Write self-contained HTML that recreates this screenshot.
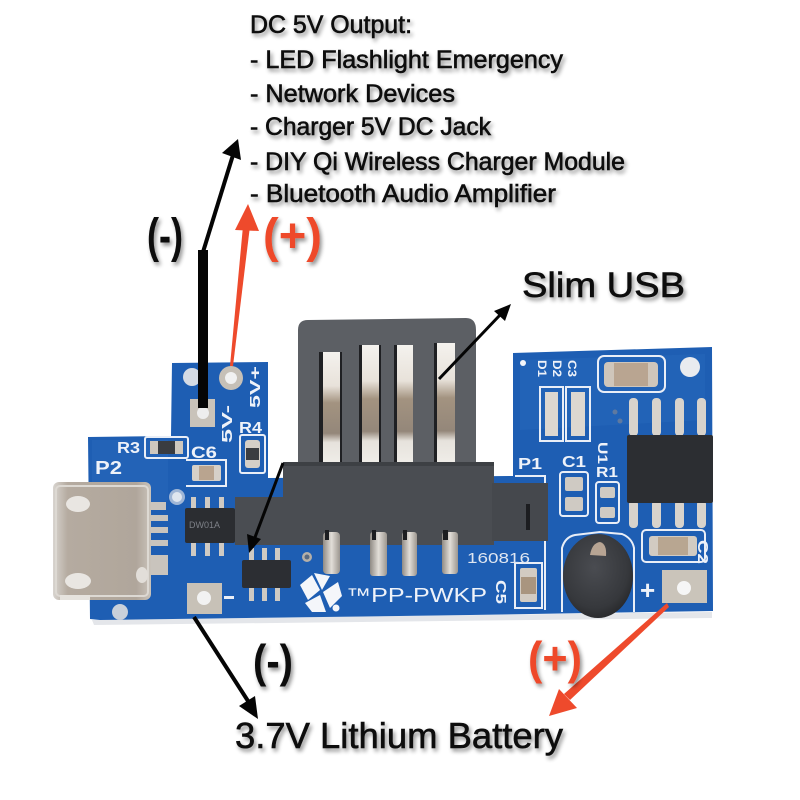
<!DOCTYPE html>
<html><head><meta charset="utf-8">
<style>
html,body{margin:0;padding:0;background:#fff;}
svg{display:block;}
text{font-family:"Liberation Sans",sans-serif;}
</style></head>
<body>
<svg width="800" height="800" viewBox="0 0 800 800" xmlns="http://www.w3.org/2000/svg">
<defs>
<filter id="sh" x="-10%" y="-40%" width="130%" height="200%">
<feGaussianBlur in="SourceAlpha" stdDeviation="2.2"/>
<feOffset dx="2" dy="3"/>
<feComponentTransfer><feFuncA type="linear" slope="0.45"/></feComponentTransfer>
<feMerge><feMergeNode/><feMergeNode in="SourceGraphic"/></feMerge>
</filter>
<linearGradient id="slot" x1="0" y1="0" x2="0" y2="1">
<stop offset="0" stop-color="#f4f2ee"/>
<stop offset="0.3" stop-color="#e8e2da"/>
<stop offset="0.45" stop-color="#a39380"/>
<stop offset="0.72" stop-color="#94877a"/>
<stop offset="0.8" stop-color="#e6e2dc"/>
<stop offset="1" stop-color="#f0eee9"/>
</linearGradient>
<linearGradient id="pin" x1="0" y1="0" x2="1" y2="0">
<stop offset="0" stop-color="#8f8a84"/>
<stop offset="0.5" stop-color="#e2ded8"/>
<stop offset="1" stop-color="#9c968f"/>
</linearGradient>
<radialGradient id="ind" cx="0.45" cy="0.4" r="0.6">
<stop offset="0" stop-color="#4a4c51"/>
<stop offset="0.8" stop-color="#36383c"/>
<stop offset="1" stop-color="#2a2b2e"/>
</radialGradient>
<linearGradient id="usb" x1="0" y1="0" x2="1" y2="0">
<stop offset="0" stop-color="#d8d4cf"/>
<stop offset="0.15" stop-color="#b5aba0"/>
<stop offset="0.85" stop-color="#b0a69b"/>
<stop offset="1" stop-color="#c9c3bb"/>
</linearGradient>
</defs>

<rect width="800" height="800" fill="#fff"/>

<!-- board shadow -->
<path d="M92 620 L712 612 L712 618 L94 625 Z" fill="#e4e6ea"/>

<!-- PCB board -->
<path d="M88 437 L171 436 L172 363 L268 362 L268 478 L513 476 L513 353 L712 347 L713 611 L470 615 L100 620 L90 619 Z" fill="#1e5eb3"/>
<path d="M92 440 L168 440 L168 500 L92 520 Z" fill="#2768bb" opacity="0.5"/>
<path d="M520 360 L705 354 L705 420 L520 430 Z" fill="#286abd" opacity="0.45"/>

<!-- silkscreen outlines -->
<g fill="none" stroke="#e9eef7" stroke-width="2">
<rect x="145" y="437" width="43" height="21" rx="2"/>
<path d="M186 460 L226 460 L226 486 L186 486"/>
<rect x="240" y="435" width="25" height="38" rx="2"/>
<path d="M515 608 L515 563 L542 563 L542 608 Z"/>
<rect x="560" y="472" width="28" height="44" rx="3"/>
<rect x="596" y="482" width="23" height="41" rx="3"/>
<rect x="642" y="530" width="63" height="32" rx="4"/>
<rect x="598" y="356" width="67" height="36" rx="6"/>
<path d="M540 387 L563 387 L563 441 L540 441 Z"/>
<path d="M566 387 L590 387 L590 441 L566 441 Z"/>
<path d="M562 612 L562 548 Q565 537 575 535 L600 532 L622 534 Q632 538 634 548 L634 612"/>
<path d="M515 476 L545 476 L545 610"/>
</g>

<!-- left section components -->
<rect x="150" y="441" width="33" height="13" fill="#cfc8be"/>
<rect x="158" y="441" width="17" height="13" fill="#3a3c40"/>
<rect x="192" y="465" width="29" height="16" rx="2" fill="#d6d0c8"/>
<rect x="199" y="466" width="15" height="14" fill="#b9a48f"/>
<!-- DW01A -->
<g fill="#cfcac3">
<rect x="191" y="497" width="5" height="14"/><rect x="205" y="497" width="5" height="14"/><rect x="219" y="497" width="5" height="14"/>
<rect x="191" y="541" width="5" height="15"/><rect x="205" y="541" width="5" height="15"/><rect x="219" y="541" width="5" height="15"/>
</g>
<rect x="185" y="508" width="50" height="35" rx="2" fill="#2b2d31"/>
<text x="189" y="528" font-size="9" fill="#7d8087">DW01A</text>
<!-- micro usb side pins -->
<g fill="#c9c4bd">
<rect x="146" y="502" width="20" height="8"/>
<rect x="150" y="515" width="18" height="6"/>
<rect x="150" y="527" width="18" height="6"/>
<rect x="150" y="540" width="18" height="6"/>
<rect x="146" y="555" width="22" height="20"/>
</g>
<!-- micro USB -->
<rect x="53" y="482" width="98" height="118" rx="6" fill="url(#usb)"/>
<rect x="56" y="486" width="92" height="110" rx="4" fill="none" stroke="#ddd9d3" stroke-width="2"/>
<ellipse cx="78" cy="504" rx="12" ry="8" fill="#e9e6e2"/>
<ellipse cx="78" cy="581" rx="13" ry="8" fill="#e9e6e2"/>
<ellipse cx="142" cy="575" rx="6" ry="8" fill="#e2ded9"/>
<rect x="60" y="595" width="30" height="5" fill="#e6e3de"/>
<!-- holes -->
<circle cx="177" cy="497" r="8" fill="#9fb6d6"/><circle cx="177" cy="497" r="5" fill="#dfe6ef"/>
<circle cx="120" cy="612" r="8" fill="#c9d0da"/>
<circle cx="192" cy="377" r="9" fill="#d5dbe4"/>
<circle cx="231" cy="378" r="12" fill="#c6c0b7"/><circle cx="231" cy="378" r="6" fill="#f1f1f1"/>
<rect x="190" y="399" width="25" height="28" fill="#c9c3ba"/><circle cx="203" cy="413" r="6" fill="#eeeeee"/>
<!-- R4 -->
<rect x="245" y="440" width="15" height="28" rx="3" fill="#d5cfc7"/><rect x="246" y="448" width="13" height="12" fill="#3b3d41"/>
<!-- bottom minus pad -->
<rect x="187" y="583" width="35" height="31" fill="#c7c1b7"/><circle cx="204" cy="598" r="7" fill="#f2f2f2"/>
<rect x="224" y="596" width="10" height="3" fill="#e9eef7"/>
<!-- SOT chip -->
<g fill="#cfcac3">
<rect x="249" y="548" width="5" height="13"/><rect x="262" y="548" width="5" height="13"/><rect x="275" y="548" width="5" height="13"/>
<rect x="249" y="586" width="5" height="15"/><rect x="262" y="586" width="5" height="15"/><rect x="275" y="586" width="5" height="15"/>
</g>
<rect x="242" y="560" width="49" height="28" rx="2" fill="#2c2e33"/>
<!-- logo -->
<g fill="#f4f6fa">
<path d="M300 585 L312 575 L320 590 L308 600 Z"/>
<path d="M314 573 L330 576 L322 590 Z"/>
<path d="M323 592 L338 582 L342 596 L330 608 Z"/>
<path d="M305 603 L320 595 L326 612 L312 612 Z"/>
<circle cx="336" cy="608" r="3.5"/>
</g>
<circle cx="307" cy="557" r="5" fill="#b6b0a8"/><circle cx="307" cy="557" r="2.5" fill="#5a6a80"/>

<!-- connector -->
<rect x="235" y="497" width="60" height="48" fill="#4a4d52"/>
<rect x="283" y="462" width="211" height="83" fill="#4a4d52"/>
<rect x="492" y="483" width="56" height="58" fill="#45484d"/>
<rect x="526" y="504" width="4" height="26" fill="#1c1d20"/>
<path d="M298 330 Q298 320 308 320 L466 318 Q476 318 476 330 L476 465 L298 465 Z" fill="#5c5f64"/>
<g>
<rect x="320" y="352" width="22" height="113" fill="url(#slot)"/>
<rect x="360" y="345" width="20" height="120" fill="url(#slot)"/>
<rect x="395" y="345" width="18" height="120" fill="url(#slot)"/>
<rect x="435" y="343" width="20" height="122" fill="url(#slot)"/>
</g>
<g fill="#1f2023">
<rect x="319" y="352" width="4" height="113"/><rect x="340" y="352" width="2" height="113"/>
<rect x="359" y="345" width="3" height="120"/><rect x="379" y="345" width="2" height="120"/>
<rect x="394" y="345" width="3" height="120"/>
<rect x="434" y="343" width="3" height="122"/>
</g>
<rect x="283" y="462" width="211" height="4" fill="#3d4044"/>
<!-- connector pins -->
<rect x="323" y="532" width="17" height="42" rx="4" fill="url(#pin)"/>
<rect x="370" y="532" width="17" height="44" rx="3" fill="url(#pin)"/>
<rect x="402" y="532" width="15" height="44" rx="3" fill="url(#pin)"/>
<rect x="442" y="532" width="16" height="42" rx="3" fill="url(#pin)"/>
<g fill="#1c1d20"><rect x="325" y="530" width="4" height="10"/><rect x="372" y="530" width="4" height="10"/><rect x="403" y="530" width="4" height="10"/><rect x="443" y="530" width="5" height="10"/></g>

<!-- right section components -->
<circle cx="523" cy="363" r="3" fill="#f4f6fa"/>
<circle cx="690" cy="367" r="10" fill="#e9ebef"/>
<rect x="545" y="392" width="13" height="44" fill="#dcd7d0"/>
<rect x="571" y="392" width="14" height="44" fill="#dcd7d0"/>
<rect x="604" y="362" width="54" height="25" rx="4" fill="#cfc6bb"/>
<rect x="614" y="363" width="34" height="23" fill="#b9a591"/>
<circle cx="615" cy="412" r="2.5" fill="#5e79a0"/><circle cx="620" cy="421" r="2.5" fill="#5e79a0"/>
<!-- IC -->
<g fill="#d8d3cc">
<rect x="629" y="398" width="9" height="38" rx="4"/><rect x="652" y="398" width="9" height="38" rx="4"/><rect x="675" y="398" width="9" height="38" rx="4"/><rect x="697" y="398" width="9" height="38" rx="4"/>
<rect x="629" y="500" width="9" height="28" rx="4"/><rect x="652" y="500" width="9" height="28" rx="4"/><rect x="675" y="500" width="9" height="28" rx="4"/><rect x="697" y="500" width="9" height="28" rx="4"/>
</g>
<rect x="627" y="435" width="86" height="68" rx="2" fill="#2c2e32"/>
<rect x="565" y="477" width="18" height="14" rx="2" fill="#cfcac3"/><rect x="565" y="497" width="18" height="14" rx="2" fill="#cfcac3"/>
<rect x="600" y="487" width="15" height="11" rx="2" fill="#cfcac3"/><rect x="600" y="507" width="15" height="11" rx="2" fill="#cfcac3"/>
<rect x="649" y="536" width="48" height="20" rx="3" fill="#d2cbc2"/><rect x="658" y="537" width="30" height="18" fill="#b8a691"/>
<rect x="520" y="568" width="17" height="34" rx="2" fill="#d2cbc2"/><rect x="521" y="577" width="15" height="17" fill="#a9957f"/>
<!-- inductor -->
<ellipse cx="598" cy="576" rx="35" ry="42" fill="url(#ind)"/>
<path d="M590 555 Q592 543 600 542 Q607 544 606 556 Z" fill="#b7a493"/>
<!-- + pad -->
<rect x="662" y="570" width="45" height="33" fill="#cac4ba"/><circle cx="684" cy="588" r="7" fill="#f6f6f6"/>

<!-- board silkscreen text -->
<g fill="#eef2f9" font-weight="bold">
<text x="117" y="453" font-size="16" textLength="23" lengthAdjust="spacingAndGlyphs">R3</text>
<text x="95" y="474" font-size="18" textLength="27" lengthAdjust="spacingAndGlyphs">P2</text>
<text x="191" y="458" font-size="17" textLength="26" lengthAdjust="spacingAndGlyphs">C6</text>
<text x="239" y="433" font-size="16" textLength="23" lengthAdjust="spacingAndGlyphs">R4</text>
<text transform="translate(260,408) rotate(-90)" font-size="15" textLength="42" lengthAdjust="spacingAndGlyphs">5V+</text>
<text transform="translate(232,443) rotate(-90)" font-size="15" textLength="38" lengthAdjust="spacingAndGlyphs">5V-</text>
<text x="518" y="469" font-size="16" textLength="24" lengthAdjust="spacingAndGlyphs">P1</text>
<text x="562" y="467" font-size="16" textLength="24" lengthAdjust="spacingAndGlyphs">C1</text>
<text x="596" y="477" font-size="15" textLength="22" lengthAdjust="spacingAndGlyphs">R1</text>
<text transform="translate(598,442) rotate(90)" font-size="14" textLength="22" lengthAdjust="spacingAndGlyphs">U1</text>
<text transform="translate(538,360) rotate(90)" font-size="12" textLength="17" lengthAdjust="spacingAndGlyphs">D1</text>
<text transform="translate(553,360) rotate(90)" font-size="12" textLength="17" lengthAdjust="spacingAndGlyphs">D2</text>
<text transform="translate(568,360) rotate(90)" font-size="12" textLength="17" lengthAdjust="spacingAndGlyphs">C3</text>
<text transform="translate(698,540) rotate(90)" font-size="15" textLength="24" lengthAdjust="spacingAndGlyphs">C2</text>
<text transform="translate(496,580) rotate(90)" font-size="15" textLength="24" lengthAdjust="spacingAndGlyphs">C5</text>
<text x="640" y="599" font-size="26">+</text>
</g>
<text x="467" y="563" font-size="15" fill="#dfe6f1" textLength="63" lengthAdjust="spacingAndGlyphs">160816</text>
<text x="346" y="602" font-size="20" fill="#eef2f9" textLength="141" lengthAdjust="spacingAndGlyphs">™PP-PWKP</text>

<!-- arrows -->
<rect x="198" y="250" width="10" height="158" fill="#050505"/>
<line x1="203" y1="252" x2="233" y2="155" stroke="#050505" stroke-width="4"/>
<polygon points="238,139 241,160 222,153" fill="#050505"/>
<polygon points="230,366 233,366 250,226 243,226" fill="#ee4a2c"/>
<polygon points="248,204 259,231 235,230" fill="#ee4a2c"/>
<line x1="439" y1="379" x2="500" y2="315" stroke="#050505" stroke-width="3"/>
<polygon points="511,304 505,321 494,311" fill="#050505"/>
<line x1="283" y1="463" x2="254" y2="540" stroke="#050505" stroke-width="3"/>
<polygon points="249,553 247,534 261,539" fill="#050505"/>
<line x1="194" y1="617" x2="248" y2="701" stroke="#050505" stroke-width="4"/>
<polygon points="258,719 239,706 255,696" fill="#050505"/>
<polygon points="667,603 669,607 570,700 564,694" fill="#ee4a2c"/>
<polygon points="549,716 559,689 577,708" fill="#ee4a2c"/>

<!-- annotation text -->
<g filter="url(#sh)" fill="#0e0e0e" stroke="#0e0e0e" stroke-width="0.6">
<text x="250" y="33" font-size="25" textLength="162" lengthAdjust="spacingAndGlyphs">DC 5V Output:</text>
<text x="250" y="68" font-size="25" textLength="313" lengthAdjust="spacingAndGlyphs">- LED Flashlight Emergency</text>
<text x="250" y="102" font-size="25" textLength="205" lengthAdjust="spacingAndGlyphs">- Network Devices</text>
<text x="250" y="135" font-size="25" textLength="241" lengthAdjust="spacingAndGlyphs">- Charger 5V DC Jack</text>
<text x="250" y="170" font-size="25" textLength="375" lengthAdjust="spacingAndGlyphs">- DIY Qi Wireless Charger Module</text>
<text x="250" y="202" font-size="25" textLength="306" lengthAdjust="spacingAndGlyphs">- Bluetooth Audio Amplifier</text>
<text x="522" y="297" font-size="35" textLength="163" lengthAdjust="spacingAndGlyphs">Slim USB</text>
<text x="235" y="748" font-size="36" textLength="328" lengthAdjust="spacingAndGlyphs">3.7V Lithium Battery</text>
</g>
<g filter="url(#sh)" fill="#0e0e0e" font-weight="bold">
<text x="147" y="252" font-size="48" textLength="36" lengthAdjust="spacingAndGlyphs">(-)</text>
<text x="253" y="677" font-size="46" textLength="40" lengthAdjust="spacingAndGlyphs">(-)</text>
</g>
<g filter="url(#sh)" fill="#ee4a2c" font-weight="bold">
<text x="263" y="252" font-size="48" textLength="59" lengthAdjust="spacingAndGlyphs">(+)</text>
<text x="528" y="674" font-size="46" textLength="54" lengthAdjust="spacingAndGlyphs">(+)</text>
</g>
</svg>
</body></html>
